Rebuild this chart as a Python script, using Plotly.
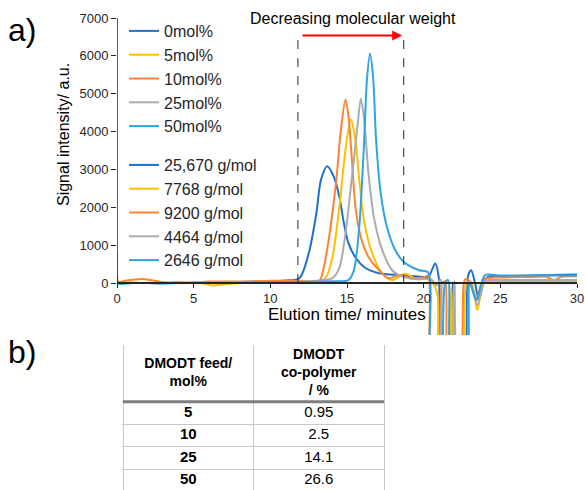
import plotly.graph_objects as go

# ---------------- data ----------------
series_names = ["0mol%", "5mol%", "10mol%", "25mol%", "50mol%"]
mw_labels = ["25,670 g/mol", "7768 g/mol", "9200 g/mol", "4464 g/mol", "2646 g/mol"]
colors = ["#1F6FCC", "#FFC000", "#FB8435", "#ABABAB", "#2FA3E6"]

t_0 = [0, 0.3, 1, 2, 3, 4, 5, 6, 7, 8, 9, 10, 11, 11.9, 12.5, 13.0, 13.3, 13.7, 14.15, 14.5,
       14.8, 15.1, 15.6, 16.2, 17.1, 18.4, 19.5, 20.3, 20.75, 21.0, 21.15, 21.6, 21.9, 22.2,
       22.6, 22.9, 23.1, 23.35, 23.6, 23.9, 24.2, 25, 26, 27, 28, 29, 30]
s_0 = [20, 10, 10, 0, 0, 10, 0, 10, 20, 30, 40, 50, 70, 130, 780, 1840, 2720, 3085, 2800, 2280,
       1580, 1050, 650, 400, 260, 210, 180, 170, 520, 100, -2500, -2500, 0, -2500,
       -2500, 200, 340, 0, -450, 0, 170, 180, 190, 200, 210, 220, 230]

t_5 = [0, 1, 2, 3, 4, 5, 5.5, 6.2, 7, 8, 10, 12, 13.0, 13.6, 14.05, 14.5, 14.9, 15.25, 15.55,
       15.8, 16.1, 16.65, 17.3, 17.95, 18.8, 19.5, 20.3, 20.6, 20.9, 21.1, 21.5, 21.8, 22.1,
       22.5, 22.8, 23.1, 23.5, 23.9, 24.3, 26, 28, 30]
s_5 = [0, 10, 10, 10, 0, 0, 0, -60, -30, 0, 20, 20, 30, 130, 690, 2010, 3510, 4320, 3770,
       2720, 1660, 780, 250, 80, 250, 120, 100, 0, -300, -2500, -2500, -100, -2500,
       -2500, 0, 30, -710, 0, 30, 30, 30, 30]

t_10 = [0, 0.1, 0.5, 1, 1.7, 2.5, 3, 4, 5, 6, 7, 8, 10, 12, 13.2, 13.4, 13.8, 14.3, 14.6, 14.9,
        15.1, 15.35, 15.55, 15.9, 16.4, 17.1, 17.7, 18.4, 19, 20, 20.3, 20.5, 20.9, 21.2, 21.4,
        21.7, 22.3, 22.7, 23.0, 23.45, 23.9, 25, 27, 28, 28.5, 29, 30]
s_10 = [530, 30, 60, 90, 110, 60, 20, 20, 20, 40, 40, 40, 60, 60, 60, 260, 1130, 2720, 4040, 4850,
        4390, 3070, 2010, 1220, 690, 340, 130, 210, 150, 150, 200, -2500, -2500, 0, 50,
        -2500, -2500, 100, 50, -400, 100, 150, 160, 170, 80, 170, 180]

t_25 = [0, 2, 4, 6, 8, 10, 12, 13, 14.05, 14.5, 14.9, 15.35, 15.7, 15.9, 16.1, 16.4, 16.75,
        17.3, 17.95, 18.6, 19.5, 20.5, 20.85, 21.1, 21.3, 21.7, 22.0, 22.3, 22.7, 23.0, 23.5,
        23.9, 24.3, 26, 28, 30]
s_25 = [0, 0, 10, 10, 20, 30, 40, 60, 130, 400, 1310, 2900, 4210, 4870, 4390, 2900, 1750,
        870, 340, 170, 100, 100, -60, 100, -2500, -2500, 50, -2500, -2500, 50, -580,
        50, 80, 80, 80, 80]

t_50 = [0, 0.05, 1, 2, 3, 4, 5, 6, 8, 10, 12, 14, 15.1, 15.45, 15.8, 16.1, 16.3, 16.5, 16.7,
        16.9, 17.2, 17.6, 18.15, 18.7, 19.7, 20.3, 20.5, 21.0, 21.4, 21.6, 21.9, 22.7, 23.0,
        23.45, 24.0, 25, 27, 30]
s_50 = [780, 0, 0, 0, -10, 0, 0, 0, 10, 20, 30, 50, 80, 340, 1490, 3600, 5360, 6060, 5440,
        3770, 2370, 1490, 870, 560, 340, 280, -2500, -2500, 0, 80, -2500, -2500, 0,
        -450, 210, 200, 200, 200]

times = [t_0, t_5, t_10, t_25, t_50]
signals = [s_0, s_5, s_10, s_25, s_50]

x_ticks = [0, 5, 10, 15, 20, 25, 30]
y_ticks = [0, 1000, 2000, 3000, 4000, 5000, 6000, 7000]

window_start = 11.8
window_end = 18.7

# table data
table_header = ["DMODT feed/<br>mol%", "DMODT<br>co-polymer<br>/ %"]
feed_mol = [5, 10, 25, 50]
copolymer_pct = [0.95, 2.5, 14.1, 26.6]

# ---------------- figure ----------------
FONT = "Liberation Sans, Arial, sans-serif"
W, H = 585, 490

fig = go.Figure()

for name, c, t, s in zip(series_names, colors, times, signals):
    fig.add_trace(go.Scatter(
        x=t, y=s, mode="lines", name=name, legendgroup="conc",
        line=dict(color=c, width=2, shape="spline", smoothing=0.8),
        xaxis="x", yaxis="y", hoverinfo="skip"))

for name, c in zip(mw_labels, colors):
    fig.add_trace(go.Scatter(
        x=[None], y=[None], mode="lines", name=name, legendgroup="mw",
        line=dict(color=c, width=2), xaxis="x", yaxis="y"))

# ---- table drawn on its own axes (units: 1 unit = 1 px vertically) ----
header_h = 56.0
row_h = 22.5
tbl_top_px, tbl_left_px, tbl_right_px = 345.7, 123.0, 384.0
pad_y = 1.0
tbl_span = H - tbl_top_px
col_px = (tbl_right_px - tbl_left_px) / 2
pad_x = 0.01

row_bounds = [0.0, header_h] + [header_h + row_h * (i + 1) for i in range(len(feed_mol))]
row_centers = [header_h + row_h * (i + 0.5) for i in range(len(feed_mol))]

fig.add_trace(go.Scatter(
    x=[0.5, 1.5], y=[header_h / 2] * 2, mode="text",
    text=[f"<b>{h}</b>" for h in table_header], textposition="middle center",
    textfont=dict(family=FONT, size=14, color="black"),
    xaxis="x2", yaxis="y2", showlegend=False, hoverinfo="skip"))
fig.add_trace(go.Scatter(
    x=[0.5] * len(feed_mol), y=row_centers, mode="text",
    text=[f"<b>{v}</b>" for v in feed_mol], textposition="middle center",
    textfont=dict(family=FONT, size=15, color="black"),
    xaxis="x2", yaxis="y2", showlegend=False, hoverinfo="skip"))
fig.add_trace(go.Scatter(
    x=[1.5] * len(copolymer_pct), y=row_centers, mode="text",
    text=[str(v) for v in copolymer_pct], textposition="middle center",
    textfont=dict(family=FONT, size=15, color="black"),
    xaxis="x2", yaxis="y2", showlegend=False, hoverinfo="skip"))

y_min, y_max = -1370, 7000
y_dom = [1 - 335 / H, 1 - 18 / H]
x_pos = y_dom[0] + (0 - y_min) / (y_max - y_min) * (y_dom[1] - y_dom[0])

fig.update_layout(
    width=W, height=H,
    margin=dict(l=0, r=0, t=0, b=0, pad=0, autoexpand=False),
    paper_bgcolor="white", plot_bgcolor="white",
    font=dict(family=FONT, color="#262626"),
    xaxis=dict(domain=[117 / W, 577 / W], range=[0, 30], tickvals=x_ticks,
               anchor="free", position=x_pos, automargin=False,
               showline=True, linecolor="#262626", linewidth=1.5,
               ticks="outside", ticklen=4, tickcolor="#262626",
               showgrid=False, zeroline=False, tickfont=dict(size=13)),
    yaxis=dict(domain=y_dom, range=[y_min, y_max], tickvals=y_ticks, automargin=False,
               showline=False, ticks="outside", ticklen=5, tickcolor="#262626",
               showgrid=False, zeroline=False, tickfont=dict(size=13)),
    xaxis2=dict(domain=[(tbl_left_px - pad_x * col_px) / W, (tbl_right_px + pad_x * col_px) / W],
                range=[-pad_x, 2 + pad_x], tickvals=[0, 1, 2], showticklabels=False,
                showgrid=True, gridcolor="#C8C8C8", gridwidth=1, zeroline=False,
                showline=False, ticks="", anchor="y2", automargin=False, fixedrange=True),
    yaxis2=dict(domain=[0, 1 - (tbl_top_px - pad_y) / H],
                range=[tbl_span, -pad_y], tickvals=row_bounds, showticklabels=False,
                showgrid=True, gridcolor="#C8C8C8", gridwidth=1, zeroline=False,
                showline=False, ticks="", anchor="x2", automargin=False, fixedrange=True),
    legend=dict(x=124 / W, y=1 - 14 / H, xanchor="left", yanchor="top",
                bgcolor="rgba(0,0,0,0)", font=dict(size=16, color="#262626"),
                traceorder="grouped", tracegroupgap=15, itemclick=False),
    showlegend=True,
)

# y axis line from 0 to 7000 only
fig.add_shape(type="line", xref="x", yref="y", x0=0, x1=0, y0=0, y1=y_max,
              line=dict(color="#262626", width=1.5))
# dashed window lines
for xv in [window_start, window_end]:
    fig.add_shape(type="line", xref="x", yref="y", x0=xv, x1=xv, y0=0, y1=6600,
                  line=dict(color="#262626", width=1, dash="dash"))
# thick table header separator
fig.add_shape(type="line", xref="x2", yref="y2", x0=0, x1=2, y0=header_h, y1=header_h,
              line=dict(color="#7F7F7F", width=3))

# red arrow
fig.add_annotation(x=window_end - 0.1, y=6540, ax=window_start + 0.2, ay=6540,
                   xref="x", yref="y", axref="x", ayref="y", text="",
                   showarrow=True, arrowhead=2, arrowsize=1, arrowwidth=2,
                   arrowcolor="#FF0000")

fig.add_annotation(x=353 / W, y=1 - 18 / H, xref="paper", yref="paper",
                   text="Decreasing molecular weight", showarrow=False,
                   font=dict(size=16, color="black"), xanchor="center", yanchor="middle")
fig.add_annotation(x=63 / W, y=1 - 135 / H, xref="paper", yref="paper",
                   text="Signal intensity/ a.u.", showarrow=False, textangle=-90,
                   font=dict(size=16, color="black"), xanchor="center", yanchor="middle")
fig.add_annotation(x=347 / W, y=1 - 314 / H, xref="paper", yref="paper",
                   text="Elution time/ minutes", showarrow=False,
                   font=dict(size=17, color="black"), xanchor="center", yanchor="middle")
fig.add_annotation(x=6 / W, y=1 - 30 / H, xref="paper", yref="paper",
                   text="a)", showarrow=False,
                   font=dict(size=32, color="black"), xanchor="left", yanchor="middle")
fig.add_annotation(x=6 / W, y=1 - 352 / H, xref="paper", yref="paper",
                   text="b)", showarrow=False,
                   font=dict(size=32, color="black"), xanchor="left", yanchor="middle")

fig.write_html("out.html", config={"displayModeBar": False},
               post_script="document.body.style.margin='0';document.body.style.padding='0';")
